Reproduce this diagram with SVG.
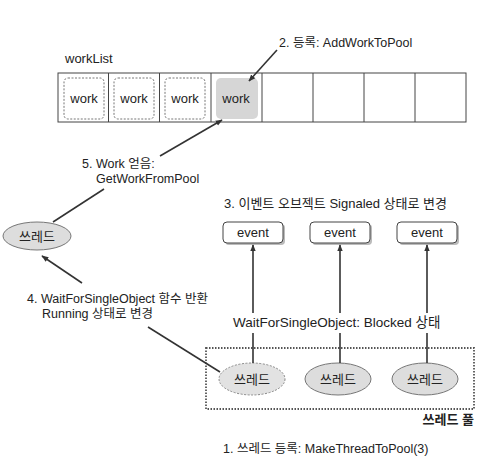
<svg xmlns="http://www.w3.org/2000/svg" width="488" height="464" viewBox="0 0 488 464">
<style>
text{font-family:"Liberation Sans","Noto Sans CJK KR",sans-serif;font-size:12.5px;fill:#222}
.cell{fill:#fff;stroke:#444;stroke-width:1}
.wk{fill:#fff;stroke:#777;stroke-width:1;stroke-dasharray:2 1.5}
.th{fill:#ddd;stroke:#777;stroke-width:1}
.thd{fill:#e2e2e2;stroke:#888;stroke-width:1;stroke-dasharray:2 1.5}
.ev{fill:#fff;stroke:#444;stroke-width:1}
.ln{stroke:#333;stroke-width:1.6;fill:none}
.c{text-anchor:middle}
.tt{font-size:13px}
</style>
<defs>
<marker id="ah" viewBox="0 0 10 10" refX="9" refY="5" markerWidth="7" markerHeight="7" orient="auto" markerUnits="userSpaceOnUse">
<path d="M0,1 L10,5 L0,9 Z" fill="#333"/>
</marker>
</defs>
<rect width="488" height="464" fill="#fff"/>
<g id="worklist">
<text x="65" y="63" style="font-size:13px">workList</text>
<rect class="cell" x="58" y="73" width="408" height="49"/>
<path d="M108.5 73V122M159.5 73V122M211 73V122M262 73V122M313 73V122M364 73V122M415 73V122" stroke="#444" stroke-width="1"/>
</g>
<g id="work1"><rect class="wk" x="64" y="78" width="40" height="41" rx="4"/><text class="c tt" x="84" y="103">work</text></g>
<g id="work2"><rect class="wk" x="114" y="78" width="40" height="41" rx="4"/><text class="c tt" x="134" y="103">work</text></g>
<g id="work3"><rect class="wk" x="165" y="78" width="40" height="41" rx="4"/><text class="c tt" x="185" y="103">work</text></g>
<g id="work4"><rect x="216" y="78" width="42" height="41" rx="5" fill="#d6d6d6"/><text class="c tt" x="236" y="103">work</text></g>
<g id="thread-main"><ellipse class="th" cx="37" cy="236" rx="34" ry="14"/><text class="c tt" x="37" y="241">쓰레드</text></g>
<g id="events">
<g id="event1"><rect x="225" y="224" width="60" height="21" rx="4" fill="#bbb"/><rect class="ev" x="223" y="222" width="60" height="21" rx="4"/><text class="c tt" x="253" y="237">event</text></g>
<g id="event2"><rect x="312" y="224" width="60" height="21" rx="4" fill="#bbb"/><rect class="ev" x="310" y="222" width="60" height="21" rx="4"/><text class="c tt" x="340" y="237">event</text></g>
<g id="event3"><rect x="399" y="224" width="60" height="21" rx="4" fill="#bbb"/><rect class="ev" x="397" y="222" width="60" height="21" rx="4"/><text class="c tt" x="427" y="237">event</text></g>
</g>
<g id="pool">
<rect x="206" y="348" width="268" height="61" fill="none" stroke="#555" stroke-width="1.8" stroke-dasharray="1.5 1.5"/>
<text x="474" y="424" text-anchor="end" style="font-weight:bold;font-size:13px">쓰레드 풀</text>
</g>
<g id="thread1"><ellipse class="thd" cx="252" cy="379" rx="33" ry="16"/><text class="c tt" x="252" y="384">쓰레드</text></g>
<g id="thread2"><ellipse class="th" cx="338" cy="379" rx="33" ry="16"/><text class="c tt" x="338" y="384">쓰레드</text></g>
<g id="thread3"><ellipse class="th" cx="425" cy="379" rx="33" ry="16"/><text class="c tt" x="425" y="384">쓰레드</text></g>
<g id="connectors">
<line class="ln" x1="277" y1="50" x2="249" y2="81" marker-end="url(#ah)"/>
<line class="ln" x1="160" y1="156" x2="222" y2="120" marker-end="url(#ah)"/>
<line class="ln" x1="104" y1="189" x2="53" y2="222"/>
<line class="ln" x1="82" y1="283" x2="42" y2="256" marker-end="url(#ah)"/>
<line class="ln" x1="148" y1="327" x2="220" y2="372"/>
<line class="ln" x1="253" y1="313" x2="253" y2="245" marker-end="url(#ah)"/>
<line class="ln" x1="340" y1="313" x2="340" y2="245" marker-end="url(#ah)"/>
<line class="ln" x1="427" y1="313" x2="427" y2="245" marker-end="url(#ah)"/>
<line class="ln" x1="253" y1="333" x2="253" y2="363"/>
<line class="ln" x1="340" y1="333" x2="340" y2="363"/>
<line class="ln" x1="427" y1="333" x2="427" y2="363"/>
</g>
<g id="labels">
<text x="279" y="47">2. 등록: AddWorkToPool</text>
<text x="82" y="168">5. Work 얻음:</text>
<text x="96" y="183">GetWorkFromPool</text>
<text x="224" y="208" style="font-size:13px">3. 이벤트 오브젝트 Signaled 상태로 변경</text>
<text x="27" y="303">4. WaitForSingleObject 함수 반환</text>
<text x="42" y="318">Running 상태로 변경</text>
<text x="233" y="327" style="font-size:13.5px">WaitForSingleObject: Blocked 상태</text>
<text x="223" y="453">1. 쓰레드 등록: MakeThreadToPool(3)</text>
</g>
</svg>
